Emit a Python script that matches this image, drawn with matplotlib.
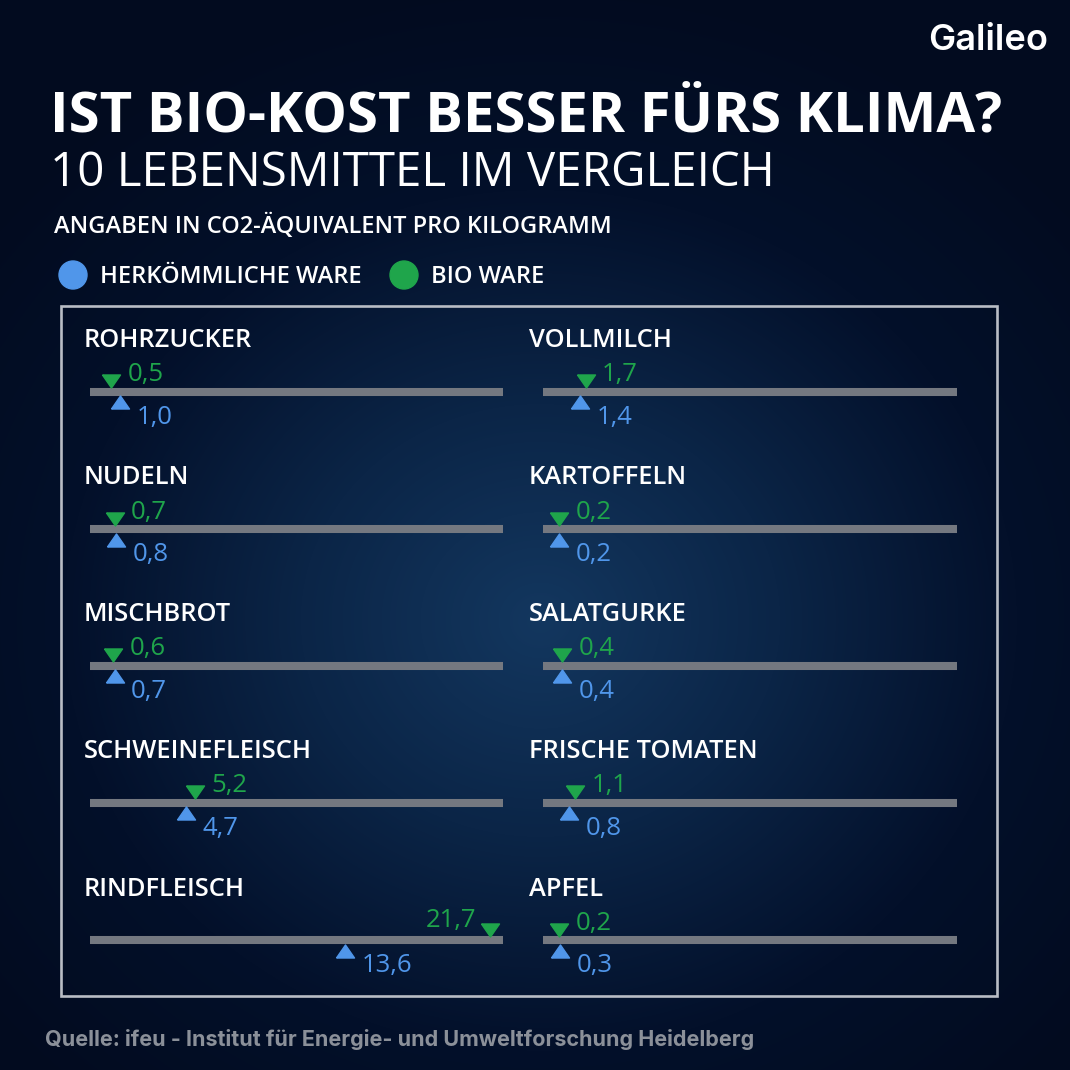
import numpy as np
import matplotlib
matplotlib.use("Agg")
import matplotlib.pyplot as plt
from matplotlib.path import Path
from matplotlib.patches import Rectangle, Circle
from matplotlib.colors import LinearSegmentedColormap

# data
left_items = ["ROHRZUCKER", "NUDELN", "MISCHBROT", "SCHWEINEFLEISCH", "RINDFLEISCH"]
left_conv = [1.0, 0.8, 0.7, 4.7, 13.6]
left_bio = [0.5, 0.7, 0.6, 5.2, 21.7]
right_items = ["VOLLMILCH", "KARTOFFELN", "SALATGURKE", "FRISCHE TOMATEN", "APFEL"]
right_conv = [1.4, 0.2, 0.4, 0.8, 0.3]
right_bio = [1.7, 0.2, 0.4, 1.1, 0.2]

BLUE = "#5096ea"
GREEN = "#1fa54b"
BAR = "#747880"
FONT = "Open Sans"

W = H = 1070
fig = plt.figure(figsize=(W / 100, H / 100), dpi=100)

# background with radial glow
bg = fig.add_axes([0, 0, 1, 1])
yy, xx = np.mgrid[0:H, 0:W]
r = np.sqrt(((xx - 540) / 620.0) ** 2 + ((yy - 620) / 560.0) ** 2)
cmap = LinearSegmentedColormap.from_list("bg", ["#13375f", "#0b2547", "#03102a", "#020b1f"])
bg.imshow(np.clip(r, 0, 1.15), cmap=cmap, extent=(0, W, H, 0), aspect="auto", vmin=0, vmax=1.15)
bg.set_xlim(0, W)
bg.set_ylim(H, 0)
bg.axis("off")

# frame
bg.add_patch(Rectangle((61, 306), 936, 690, fill=False, ec="#b9bdc5", lw=1.9))

# headings
bg.text(50, 117, "IST BIO-KOST BESSER FÜRS KLIMA?", color="white", fontsize=40.5,
        fontweight="bold", family=FONT, va="center", ha="left")
bg.text(50, 173, "10 LEBENSMITTEL IM VERGLEICH", color="white", fontsize=34.2,
        family=FONT, va="center", ha="left")
bg.text(54, 226, "ANGABEN IN CO2-ÄQUIVALENT PRO KILOGRAMM", color="white", fontsize=17,
        fontweight="semibold", family=FONT, va="center", ha="left")

# legend
bg.add_patch(Circle((73, 275), 14, color=BLUE))
bg.text(100, 277, "HERKÖMMLICHE WARE", color="white", fontsize=17.1, family=FONT,
        fontweight="semibold", va="center", ha="left")
bg.add_patch(Circle((404, 275), 14, color=GREEN))
bg.text(431, 277, "BIO WARE", color="white", fontsize=17.1, family=FONT,
        fontweight="semibold", va="center", ha="left")

# logo and source
bg.text(1048, 41, "Galileo", color="white", fontsize=26, fontweight="semibold",
        family="Inter", va="center", ha="right")
bg.text(45, 1040, "Quelle: ifeu - Institut für Energie- und Umweltforschung Heidelberg",
        color="#8b9099", fontsize=15.5, fontweight="bold", family="Inter",
        va="center", ha="left")

down_tri = Path([(-9, 6.5), (9, 6.5), (0, -6.5), (-9, 6.5)])
up_tri = Path([(-9, -6.5), (9, -6.5), (0, 6.5), (-9, -6.5)])

bar_rows = [391.5, 529, 665.5, 802.5, 940]
columns = [
    (90, 503, 84, left_items, left_conv, left_bio),
    (543, 957, 529, right_items, right_conv, right_bio),
]
xmin, xmax = -0.67, 22.4

for x0, x1, tx, items, conv, bio in columns:
    for name, c, b, by in zip(items, conv, bio, bar_rows):
        bg.text(tx, by - 51, name, color="white", fontsize=18.4, family=FONT,
                fontweight="semibold", va="center", ha="left")
        ax = fig.add_axes([x0 / W, 1 - (by + 45) / H, (x1 - x0) / W, 90 / H])
        ax.set_xlim(xmin, xmax)
        ax.set_ylim(45, -45)
        ax.axis("off")
        ax.patch.set_alpha(0)
        ax.plot([xmin, xmax], [0, 0], color=BAR, lw=5.8, solid_capstyle="butt", zorder=1)
        ax.plot([b], [-10.5], marker=down_tri, ms=13, color=GREEN, zorder=3)
        ax.plot([c], [10.5], marker=up_tri, ms=13, color=BLUE, zorder=3)
        lab_b = f"{b:.1f}".replace(".", ",")
        lab_c = f"{c:.1f}".replace(".", ",")
        if b > 20:
            ax.annotate(lab_b, (b, -10.5), xytext=(-10, 6.5), textcoords="offset points",
                        color=GREEN, fontsize=18.5, family=FONT, ha="right", va="center")
        else:
            ax.annotate(lab_b, (b, -10.5), xytext=(12, 4.5), textcoords="offset points",
                        color=GREEN, fontsize=18.5, family=FONT, ha="left", va="center")
        ax.annotate(lab_c, (c, 10.5), xytext=(12, -11), textcoords="offset points",
                    color=BLUE, fontsize=18.5, family=FONT, ha="left", va="center")

fig.savefig("out.png", dpi=100)
